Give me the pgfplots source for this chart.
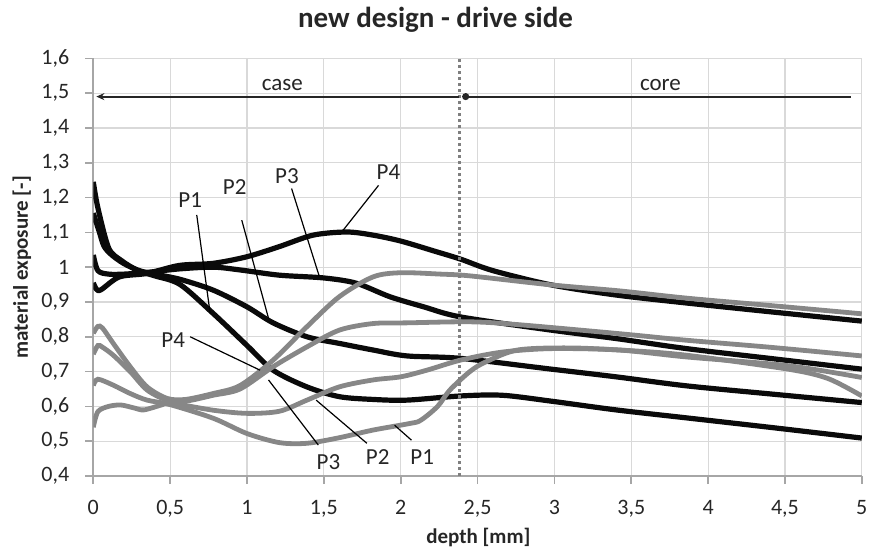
\documentclass[border=0pt]{standalone}
\usepackage{fontspec}
\setmainfont{Carlito}
\usepackage{pgfplots}
\pgfplotsset{compat=1.18}
\usetikzlibrary{arrows.meta}
\definecolor{gridc}{HTML}{D9D9D9}
\definecolor{axc}{HTML}{A6A6A6}
\definecolor{grayc}{HTML}{878787}
\definecolor{dotc}{HTML}{7F7F7F}
\definecolor{blk}{HTML}{0A0A0A}
\definecolor{txt}{HTML}{262626}
\begin{document}
\begin{tikzpicture}
\begin{axis}[
  scale only axis, width=384.25pt, height=208.85pt,
  xmin=0, xmax=5, ymin=0.4, ymax=1.6,
  xtick={0,0.5,1,1.5,2,2.5,3,3.5,4,4.5,5},
  ytick={0.4,0.5,0.6,0.7,0.8,0.9,1,1.1,1.2,1.3,1.4,1.5,1.6},
  axis lines*=left,
  axis line style={axc, line width=0.8pt},
  grid=major, major grid style={gridc, line width=0.6pt},
  tick align=outside, major tick length=4pt,
  tick style={axc, line width=0.8pt},
  ticklabel style={font=\fontsize{11}{13}\selectfont, text=txt},
  xticklabel style={yshift=-4.5pt},
  yticklabel style={xshift=-4.5pt},
  /pgf/number format/use comma,
  /pgf/number format/assume math mode=true,
  title={\textbf{new design - drive side}},
  title style={font=\fontsize{14.5}{17}\selectfont, text=txt, at={(axis description cs:0.4453,1.063)}, anchor=center},
  xlabel={\textbf{depth [mm]}},
  xlabel style={font=\fontsize{10.5}{12}\selectfont, text=txt, at={(axis description cs:0.501,-0.146)}, anchor=center},
  ylabel={\textbf{material exposure [-]}},
  ylabel style={font=\fontsize{10.5}{12}\selectfont, text=txt, at={(axis description cs:-0.0928,0.5)}, anchor=center},
  every axis plot/.append style={smooth, tension=0.5, no marks},
]
% black curves
\addplot[blk, line width=2.6pt] coordinates {(0,1.245) (0.03,1.17) (0.1,1.055) (0.18,1.02) (0.29,0.99) (0.4,0.975) (0.565,0.95) (0.78,0.867) (1.0,0.775) (1.17,0.704) (1.39,0.656) (1.6,0.628) (1.82,0.62) (2.04,0.618) (2.39,0.63) (2.66,0.632) (2.98,0.615) (3.4,0.59) (3.86,0.567) (4.4,0.54) (5,0.509)};
\addplot[blk, line width=2.6pt] coordinates {(0,1.155) (0.04,1.10) (0.07,1.06) (0.12,1.035) (0.2,1.01) (0.3,0.99) (0.4,0.98) (0.565,0.965) (0.78,0.934) (1.0,0.886) (1.17,0.84) (1.39,0.8) (1.6,0.781) (1.82,0.762) (2.04,0.745) (2.39,0.738) (2.98,0.707) (3.4,0.685) (3.86,0.659) (4.4,0.636) (5,0.611)};
\addplot[blk, line width=2.6pt] coordinates {(0,1.035) (0.03,0.99) (0.1,0.98) (0.2,0.98) (0.35,0.985) (0.56,0.995) (0.78,1.0) (0.955,0.992) (1.21,0.977) (1.5,0.969) (1.71,0.954) (1.93,0.915) (2.15,0.886) (2.39,0.857) (2.98,0.819) (3.4,0.795) (3.86,0.766) (4.4,0.738) (5,0.707)};
\addplot[blk, line width=2.6pt] coordinates {(0,0.955) (0.02,0.937) (0.05,0.935) (0.17,0.972) (0.35,0.982) (0.56,1.005) (0.78,1.011) (1.0,1.03) (1.21,1.059) (1.43,1.092) (1.65,1.101) (1.82,1.092) (2.0,1.075) (2.22,1.046) (2.39,1.023) (2.6,0.99) (2.98,0.949) (3.4,0.92) (3.86,0.897) (4.4,0.872) (5,0.845)};
% gray curves
\addplot[grayc, line width=2.4pt] coordinates {(0,0.66) (0.03,0.678) (0.13,0.661) (0.24,0.637) (0.35,0.618) (0.5,0.605) (0.78,0.566) (1.0,0.522) (1.21,0.496) (1.39,0.494) (1.6,0.51) (1.82,0.532) (2.06,0.551) (2.13,0.56) (2.24,0.6) (2.32,0.647) (2.45,0.7) (2.55,0.727) (2.76,0.762) (3.1,0.768) (3.5,0.76) (3.86,0.747) (4.52,0.707) (4.78,0.68) (5,0.63)};
\addplot[grayc, line width=2.4pt] coordinates {(0,0.54) (0.03,0.585) (0.1,0.6) (0.18,0.604) (0.27,0.595) (0.33,0.59) (0.45,0.605) (0.5,0.61) (0.78,0.589) (1.0,0.58) (1.21,0.586) (1.39,0.618) (1.6,0.656) (1.82,0.676) (2.0,0.685) (2.17,0.704) (2.39,0.733) (2.66,0.756) (2.98,0.766) (3.42,0.762) (3.86,0.742) (4.52,0.717) (5,0.683)};
\addplot[grayc, line width=2.4pt] coordinates {(0,0.75) (0.03,0.775) (0.06,0.77) (0.13,0.747) (0.24,0.7) (0.35,0.647) (0.48,0.618) (0.6,0.615) (0.78,0.632) (0.955,0.65) (1.17,0.714) (1.39,0.771) (1.6,0.819) (1.82,0.838) (2.04,0.84) (2.45,0.843) (2.76,0.835) (3.42,0.809) (3.86,0.79) (4.4,0.77) (5,0.745)};
\addplot[grayc, line width=2.4pt] coordinates {(0,0.81) (0.03,0.83) (0.06,0.825) (0.13,0.781) (0.24,0.714) (0.35,0.656) (0.48,0.623) (0.6,0.62) (0.78,0.637) (0.955,0.66) (1.17,0.733) (1.39,0.829) (1.6,0.915) (1.82,0.972) (2.0,0.984) (2.26,0.98) (2.45,0.975) (2.98,0.949) (3.42,0.932) (3.86,0.911) (4.4,0.89) (5,0.866)};
% boundary case/core
\draw[dotc, line width=1.4pt, dash pattern=on 1.4pt off 1.6pt] (axis cs:2.38,0.4) -- (axis cs:2.38,1.6);
\draw[black!85, line width=1pt, {Stealth[length=4pt,width=3.5pt]}-] (axis cs:0.02,1.49) -- (axis cs:2.38,1.49);
\draw[black!85, line width=1pt, {Circle[length=3.5pt]}-] (axis cs:2.40,1.49) -- (axis cs:4.93,1.49);
\node[font=\fontsize{11.5}{13}\selectfont, text=txt] at (axis cs:1.23,1.523) {case};
\node[font=\fontsize{11.5}{13}\selectfont, text=txt] at (axis cs:3.69,1.523) {core};
% labels
\tikzset{lab/.style={font=\fontsize{11.5}{13}\selectfont, text=txt}, ptr/.style={black, line width=0.6pt}}
\node[lab] at (axis cs:0.63,1.193) {P1};
\draw[ptr] (axis cs:0.673,1.15) -- (axis cs:0.76,0.868);
\node[lab] at (axis cs:0.92,1.231) {P2};
\draw[ptr] (axis cs:0.966,1.135) -- (axis cs:1.14,0.853);
\node[lab] at (axis cs:1.26,1.262) {P3};
\draw[ptr] (axis cs:1.29,1.226) -- (axis cs:1.47,0.974);
\node[lab] at (axis cs:1.92,1.274) {P4};
\draw[ptr] (axis cs:1.856,1.235) -- (axis cs:1.627,1.107);
\node[lab] at (axis cs:0.52,0.79) {P4};
\draw[ptr] (axis cs:0.63,0.8) -- (axis cs:1.085,0.704);
\node[lab] at (axis cs:1.53,0.441) {P3};
\draw[ptr] (axis cs:1.464,0.489) -- (axis cs:1.14,0.676);
\node[lab] at (axis cs:1.85,0.455) {P2};
\draw[ptr] (axis cs:1.78,0.494) -- (axis cs:1.45,0.618);
\node[lab] at (axis cs:2.14,0.455) {P1};
\draw[ptr] (axis cs:2.07,0.503) -- (axis cs:1.96,0.546);
\end{axis}
\pgfresetboundingbox
\path[use as bounding box] (-46.65pt,-38.5pt) rectangle (388.35pt,238pt);
\end{tikzpicture}
\end{document}
